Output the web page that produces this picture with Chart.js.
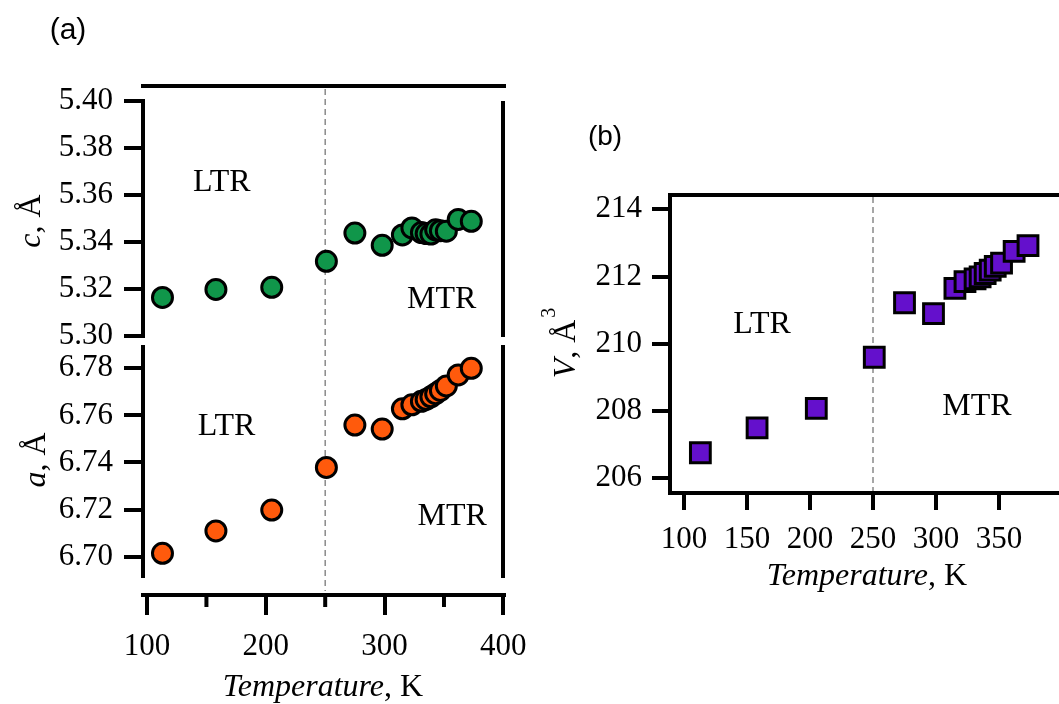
<!DOCTYPE html>
<html>
<head>
<meta charset="utf-8">
<script src="https://cdn.jsdelivr.net/npm/chart.js@4.4.1/dist/chart.umd.min.js"></script>
<style>
  html, body { margin: 0; padding: 0; background: #fff; overflow: hidden; }
  body { width: 1059px; height: 704px; position: relative; }
  canvas { position: absolute; }
</style>
</head>
<body>
<canvas id="aChart" width="530" height="364" style="left:0;top:340px"></canvas>
<canvas id="cChart" width="530" height="360" style="left:0;top:0"></canvas>
<canvas id="vChart" width="529" height="510" style="left:530px;top:100px"></canvas>
<script>
// temperatures (K) and lattice values
const temps = [113, 158, 205, 251, 275, 298, 315, 323, 331, 335, 339, 343, 347, 352, 362, 373];
const cVals = [5.3164, 5.3198, 5.3207, 5.3318, 5.3438, 5.3386, 5.3430, 5.3460, 5.3440, 5.3436, 5.3434, 5.3452, 5.3448, 5.3446, 5.3496, 5.3488];
const aVals = [6.7014, 6.7109, 6.7198, 6.7379, 6.7559, 6.7542, 6.7628, 6.7645, 6.7660, 6.7668, 6.7679, 6.7692, 6.7706, 6.7725, 6.7772, 6.7800];
const vVals = [206.76, 207.50, 208.08, 209.60, 211.22, 210.90, 211.65, 211.85, 211.93, 211.99, 212.09, 212.19, 212.30, 212.40, 212.75, 212.92];

const cTicks = [5.30, 5.32, 5.34, 5.36, 5.38, 5.40];
const aTicks = [6.70, 6.72, 6.74, 6.76, 6.78];
const vTicks = [206, 208, 210, 212, 214];
const tTicksLeft = [100, 200, 300, 400];
const tMinorLeft = [150, 250, 350];
const tTicksRight = [100, 150, 200, 250, 300, 350];
const transitionT = 250;

const serif = '"Liberation Serif", "Times New Roman", serif';
const sans = '"Liberation Sans", Arial, sans-serif';
Chart.defaults.font.family = 'Liberation Serif';
Chart.defaults.color = '#000';

function pts(ys) {
    return temps.map((t, i) => ({ x: t, y: ys[i] }));
}

function fixTicks(values) {
    return scale => { scale.ticks = values.map(v => ({ value: v })); };
}

// keep chart areas exactly where the layout padding puts them
function noPad(s) {
    s.paddingLeft = 0;
    s.paddingRight = 0;
    s.paddingTop = 0;
    s.paddingBottom = 0;
}

function stroke(ctx, x1, y1, x2, y2, w, dash, color) {
    ctx.save();
    ctx.beginPath();
    ctx.lineWidth = w;
    ctx.strokeStyle = color || '#000';
    ctx.setLineDash(dash || []);
    ctx.moveTo(x1, y1);
    ctx.lineTo(x2, y2);
    ctx.stroke();
    ctx.restore();
}

// text made of several runs (italic symbol + plain unit), optionally rotated
function rich(ctx, parts, x, y, rotated) {
    ctx.save();
    ctx.translate(x, y);
    if (rotated) ctx.rotate(-Math.PI / 2);
    let w = 0;
    parts.forEach(p => { ctx.font = p.font; w += ctx.measureText(p.text).width + (p.gap || 0); });
    let cx = -w / 2;
    ctx.fillStyle = '#000';
    ctx.textBaseline = 'alphabetic';
    ctx.textAlign = 'left';
    parts.forEach(p => {
        ctx.font = p.font;
        cx += p.gap || 0;
        ctx.fillText(p.text, cx, p.dy || 0);
        cx += ctx.measureText(p.text).width;
    });
    ctx.restore();
}

function regionLabel(chart, text, t, v) {
    const ctx = chart.ctx;
    ctx.save();
    ctx.font = '32px ' + serif;
    ctx.fillStyle = '#000';
    ctx.textAlign = 'center';
    ctx.textBaseline = 'middle';
    ctx.fillText(text, chart.scales.x.getPixelForValue(t), chart.scales.y.getPixelForValue(v));
    ctx.restore();
}

function plainText(ctx, text, font, x, y) {
    ctx.save();
    ctx.font = font;
    ctx.fillStyle = '#000';
    ctx.textAlign = 'center';
    ctx.textBaseline = 'alphabetic';
    ctx.fillText(text, x, y);
    ctx.restore();
}

const tempTitle = [
    { text: 'Temperature', font: 'italic 32px ' + serif },
    { text: ', K', font: '32px ' + serif }
];

const tickFont = { family: 'Liberation Serif', size: 31, style: 'normal' };

function yAxis(min, max, ticks, digits, width, tickLen, pad, showBorder) {
    return {
        type: 'linear', min: min, max: max,
        afterBuildTicks: fixTicks(ticks),
        afterFit: s => { s.width = width; noPad(s); },
        border: { display: showBorder, width: 4, color: '#000' },
        grid: { drawOnChartArea: false, drawTicks: true, tickLength: tickLen, lineWidth: 4, color: '#000' },
        ticks: { padding: pad, font: tickFont, color: '#000', callback: v => v.toFixed(digits) }
    };
}

function xAxis(min, max, ticks, height, tickLen, pad, showBorder) {
    return {
        type: 'linear', min: min, max: max,
        afterBuildTicks: fixTicks(ticks),
        afterFit: s => { s.height = height; noPad(s); },
        border: { display: showBorder, width: 4, color: '#000' },
        grid: { drawOnChartArea: false, drawTicks: true, tickLength: tickLen, lineWidth: 4, color: '#000' },
        ticks: { padding: pad, font: tickFont, color: '#000', maxRotation: 0, autoSkip: false, callback: v => String(v) }
    };
}

function dataset(ys, color, style, radius) {
    return {
        data: pts(ys),
        showLine: false,
        pointStyle: style,
        pointRadius: radius,
        pointBackgroundColor: color,
        pointBorderColor: '#000',
        pointBorderWidth: 3
    };
}

const baseOptions = {
    responsive: false,
    animation: false,
    events: [],
    plugins: { legend: { display: false }, tooltip: { enabled: false } }
};

// (a) top: c parameter
new Chart(document.getElementById('cChart'), {
    type: 'scatter',
    data: { datasets: [dataset(cVals, '#10964a', 'circle', 10)] },
    options: {
        ...baseOptions,
        layout: { autoPadding: false, padding: { top: 101, right: 27, bottom: 24, left: 0 } },
        scales: {
            x: { type: 'linear', min: 96.6, max: 399.7, display: false, afterFit: noPad },
            y: yAxis(5.30, 5.40, cTicks, 2, 143, 19, 11, true)
        }
    },
    plugins: [{
        id: 'deco',
        beforeDatasetsDraw(chart) {
            const a = chart.chartArea, x = chart.scales.x.getPixelForValue(transitionT);
            stroke(chart.ctx, x, a.top - 12, x, 340, 1.5, [6, 4], '#8a8a8a');
        },
        afterDraw(chart) {
            const ctx = chart.ctx, a = chart.chartArea;
            stroke(ctx, a.left - 2, a.top - 15, a.right + 3, a.top - 15, 4);
            stroke(ctx, a.right, a.top, a.right, a.bottom + 1, 4);
            regionLabel(chart, 'LTR', 163, 5.3654);
            regionLabel(chart, 'MTR', 348, 5.3156);
            rich(ctx, [
                { text: 'c', font: 'italic 32px ' + serif },
                { text: ', Å', font: '32px ' + serif }
            ], 40, 221, true);
            plainText(ctx, '(a)', '30px ' + sans, 68, 39);
        }
    }]
});

// (a) bottom: a parameter
new Chart(document.getElementById('aChart'), {
    type: 'scatter',
    data: { datasets: [dataset(aVals, '#ff5a0c', 'circle', 10)] },
    options: {
        ...baseOptions,
        layout: { autoPadding: false, padding: { top: 5, right: 27, bottom: 0, left: 0 } },
        scales: {
            x: xAxis(96.6, 399.7, tTicksLeft, 109, 20, 13, false),
            y: yAxis(6.6837, 6.7899, aTicks, 2, 143, 19, 11, false)
        }
    },
    plugins: [{
        id: 'deco',
        beforeDatasetsDraw(chart) {
            const a = chart.chartArea, x = chart.scales.x.getPixelForValue(transitionT);
            stroke(chart.ctx, x, 0, x, a.bottom - 4, 1.5, [6, 4], '#8a8a8a');
        },
        afterDraw(chart) {
            const ctx = chart.ctx, a = chart.chartArea, sx = chart.scales.x;
            stroke(ctx, a.left, a.top, a.left, a.bottom - 17, 4);
            stroke(ctx, a.right, a.top, a.right, a.bottom - 17, 4);
            stroke(ctx, a.left - 2, a.bottom, a.right + 3, a.bottom, 4);
            tMinorLeft.forEach(t => {
                const x = sx.getPixelForValue(t);
                stroke(ctx, x, a.bottom, x, a.bottom + 12, 4);
            });
            regionLabel(chart, 'LTR', 167, 6.7551);
            regionLabel(chart, 'MTR', 357, 6.7169);
            rich(ctx, [
                { text: 'a', font: 'italic 32px ' + serif },
                { text: ', Å', font: '32px ' + serif }
            ], 45, 120, true);
            rich(ctx, tempTitle, (a.left + a.right) / 2, 356, false);
        }
    }]
});

// (b) unit-cell volume
new Chart(document.getElementById('vChart'), {
    type: 'scatter',
    data: { datasets: [dataset(vVals, '#6410cc', 'rect', 14)] },
    options: {
        ...baseOptions,
        layout: { autoPadding: false, padding: { top: 95, right: 0, bottom: 0, left: 0 } },
        scales: {
            x: xAxis(88.9, 397.6, tTicksRight, 117, 17, 11, true),
            y: yAxis(205.563, 214.425, vTicks, 0, 140, 18, 10, true)
        }
    },
    plugins: [{
        id: 'deco',
        beforeDatasetsDraw(chart) {
            const a = chart.chartArea, x = chart.scales.x.getPixelForValue(transitionT);
            stroke(chart.ctx, x, a.top + 2, x, a.bottom - 2, 1.5, [6, 4], '#8a8a8a');
        },
        afterDraw(chart) {
            const ctx = chart.ctx, a = chart.chartArea;
            stroke(ctx, a.left - 2, a.top, chart.width, a.top, 4);
            regionLabel(chart, 'LTR', 162, 210.56);
            regionLabel(chart, 'MTR', 332.5, 208.12);
            rich(ctx, [
                { text: 'V', font: 'italic 32px ' + serif },
                { text: ', Å', font: '32px ' + serif },
                { text: '3', font: '20px ' + serif, dy: -20, gap: 2 }
            ], 45, 243, true);
            rich(ctx, tempTitle, 337, 485, false);
            plainText(ctx, '(b)', '28px ' + sans, 75, 45);
        }
    }]
});
</script>
</body>
</html>
